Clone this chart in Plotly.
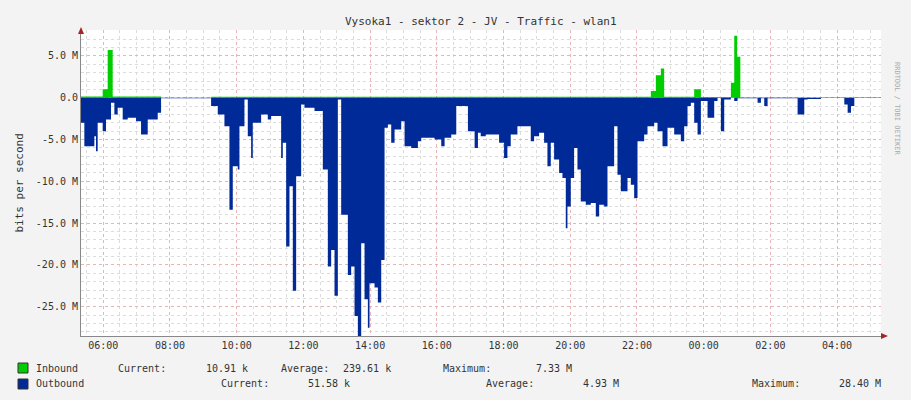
import plotly.graph_objects as go
from datetime import datetime, timedelta

# minutes since 05:20
out_t = [0,6,24,27,30,39,45,54,60,66,75,84,99,108,120,138,144,234,246,258,267,273,282,285,294,300,306,309,324,336,342,360,363,369,375,381,387,396,402,420,435,444,450,456,462,468,480,486,492,498,504,510,516,519,528,534,540,546,552,558,564,576,582,594,606,612,636,648,654,666,675,696,708,714,
         719,728,752,761,767,773,785,809,815,824,833,839,845,851,860,866,872,875,881,887,893,899,908,917,926,932,941,947,959,965,971,983,989,995,1001,1013,1019,1031,1037,1046,1055,1067,1079,1085,1091,1097,1103,1109,1115,1127,1139,1145,1151,1157,1169,1175,1181,1217,1223,1229,1235,1289,1301,1307,1331,1373,1379,1385,1391,1439]
out_v = [3.0,5.8,4.6,6.4,3.0,4.0,2.6,0.6,2.0,1.2,2.6,2.4,2.8,4.4,2.6,1.8,0.05,1.0,2.0,3.4,13.4,8.2,8.6,3.4,0.2,4.6,7.2,3.0,2.0,2.6,2.2,7.2,5.4,17.8,10.6,23.1,9.4,0.8,1.2,1.6,8.6,20.2,18.2,23.7,0.2,14.0,21.2,20.2,26.1,28.5,17.4,24.1,27.5,22.2,22.7,24.5,19.4,3.6,3.2,5.4,3.8,2.8,5.8,6.0,5.2,4.8,5.0,5.8,4.8,4.4,1.0,4.0,6.0,4.2,
         4.6,4.4,5.4,7.2,5.8,4.4,3.4,5.2,4.6,4.2,5.4,8.2,5.4,7.4,9.0,9.6,15.6,13.0,9.6,6.0,8.6,12.4,12.8,12.6,14.2,12.8,13.0,8.2,3.4,9.2,11.2,9.6,10.4,12.0,5.2,4.4,3.4,3.0,4.0,5.8,3.6,4.4,5.2,3.4,1.0,0.6,3.0,4.4,0.4,2.4,0.4,0.0,4.0,0.2,0.0,0.4,0.05,0.6,0.05,1.0,0.05,2.0,0.2,0.15,0.02,0.8,1.8,1.0,0.03,0.03]
in_t = [0,39,48,57,144,234,1025,1034,1043,1049,1103,1115,1169,1175,1180,1186,1439]
in_v = [0.15,1.0,5.7,0.15,0.0,0.12,0.8,2.7,3.5,0.12,1.0,0.1,1.8,7.4,4.9,0.02,0.02]

yticks = [5,0,-5,-10,-15,-20,-25]
ylabels = ["5.0 M","0.0","-5.0 M","-10.0 M","-15.0 M","-20.0 M","-25.0 M"]

base = datetime(2024,1,1,5,20)
tx = lambda ts: [base + timedelta(minutes=m) for m in ts]

FONT = "DejaVu Sans Mono"
fig = go.Figure()
fig.add_trace(go.Scatter(x=tx(in_t), y=in_v, mode="lines", line=dict(shape="hv", width=0, color="#00CC00"),
                         fill="tozeroy", fillcolor="#00CC00", hoverinfo="skip"))
fig.add_trace(go.Scatter(x=tx(out_t), y=[-v for v in out_v], mode="lines", line=dict(shape="hv", width=0, color="#002A97"),
                         fill="tozeroy", fillcolor="#002A97", hoverinfo="skip"))

ticks_x = [datetime(2024,1,1,6)+timedelta(hours=2*i) for i in range(12)]
fig.update_xaxes(range=[base, base+timedelta(minutes=1439)], tickvals=ticks_x, tickformat="%H:%M", automargin=False,
                 showgrid=True, gridcolor="rgba(240,150,150,0.55)", griddash="dot", gridwidth=1,
                 minor=dict(dtick=30*60*1000, showgrid=True, gridcolor="#dcdcdc", griddash="dot", tick0=base+timedelta(minutes=10)),
                 showline=True, linecolor="#888", zeroline=False, ticks="", tickfont=dict(family=FONT, size=10, color="#333"))
fig.update_yaxes(range=[-28.5, 8.1], tickvals=yticks, ticktext=ylabels, automargin=False,
                 showgrid=True, gridcolor="rgba(240,150,150,0.55)", griddash="dot",
                 minor=dict(dtick=1, showgrid=True, gridcolor="#dcdcdc", griddash="dot"),
                 showline=True, linecolor="#888", zeroline=False, ticks="",
                 tickfont=dict(family=FONT, size=10, color="#333"))

anns = []
def px(p): return (p-81)/800
def py(p): return (336-p)/306
def txt(x, y, s, size=10, **kw):
    anns.append(dict(x=px(x), y=py(y), xref="paper", yref="paper", text=s, showarrow=False,
                     xanchor="left", yanchor="middle", font=dict(family=FONT, size=size, color="#333"), **kw))
for x, s in [(34,"Inbound"),(116,"Current:"),(204,"10.91 k"),(279,"Average:"),(341,"239.61 k"),(441,"Maximum:"),(534,"7.33 M")]:
    txt(x, 368, s)
for x, s in [(34,"Outbound"),(219,"Current:"),(306,"51.58 k"),(484,"Average:"),(581,"4.93 M"),(750,"Maximum:"),(837,"28.40 M")]:
    txt(x, 384, s)
anns.append(dict(x=0.5, y=py(13), xref="paper", yref="paper", text="Vysoka1 - sektor 2 - JV - Traffic - wlan1",
                 showarrow=False, font=dict(family=FONT, size=11, color="#333")))
anns.append(dict(x=px(10), y=py(183), xref="paper", yref="paper", text="bits per second", textangle=-90,
                 showarrow=False, font=dict(family=FONT, size=11, color="#333")))
anns.append(dict(x=px(903), y=py(60), xref="paper", yref="paper", text="RRDTOOL / TOBI OETIKER", textangle=90,
                 showarrow=False, font=dict(family=FONT, size=7, color="#aaa")))

shapes = []
for y, c in [(368,"#00CC00"),(384,"#002A97")]:
    shapes.append(dict(type="rect", xref="paper", yref="paper", x0=px(18), x1=px(28), y0=py(y+5), y1=py(y-5),
                       fillcolor=c, line=dict(color="#333", width=1)))
shapes.append(dict(type="path", xref="paper", yref="paper",
                   path=f"M {px(881)} {py(333)} L {px(888)} {py(336)} L {px(881)} {py(339)} Z", fillcolor="#aa2222", line=dict(width=0)))
shapes.append(dict(type="path", xref="paper", yref="paper",
                   path=f"M {px(78)} {py(34)} L {px(81)} {py(27)} L {px(84)} {py(34)} Z", fillcolor="#aa2222", line=dict(width=0)))

fig.update_layout(width=911, height=400, margin=dict(l=81, r=30, t=30, b=64),
                  paper_bgcolor="#F3F3F3", plot_bgcolor="white", showlegend=False,
                  annotations=anns, shapes=shapes)
fig.write_html("out.html", config={"displayModeBar": False})

with open("out.html", encoding="utf-8") as f:
    html = f.read()
html = html.replace("<body>", '<body style="margin:0;padding:0;overflow:hidden">', 1)
with open("out.html", "w", encoding="utf-8") as f:
    f.write(html)
